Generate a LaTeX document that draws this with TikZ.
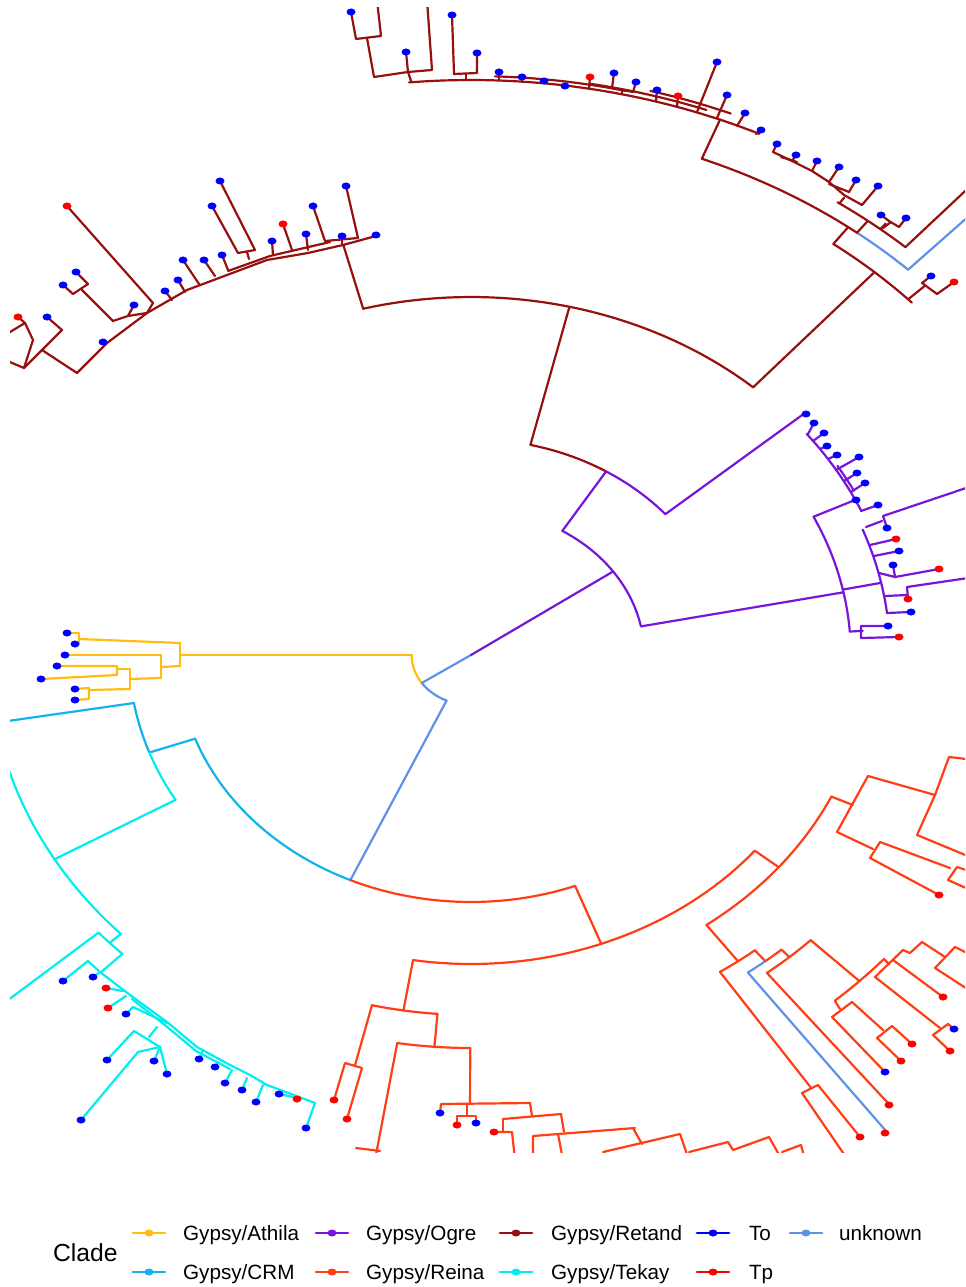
\documentclass[tikz,border=0pt]{standalone}
\usepackage{fontspec}
\setmainfont{Liberation Sans}
\definecolor{cAth}{RGB}{255,190,15}
\definecolor{cCRM}{RGB}{20,178,235}
\definecolor{cOgr}{RGB}{118,22,218}
\definecolor{cRei}{RGB}{255,62,22}
\definecolor{cRet}{RGB}{150,16,16}
\definecolor{cTek}{RGB}{0,238,240}
\definecolor{cTo}{RGB}{0,0,255}
\definecolor{cTp}{RGB}{255,0,0}
\definecolor{cUnk}{RGB}{95,145,232}
\tikzset{
  ath/.style={draw=cAth}, crm/.style={draw=cCRM}, ogr/.style={draw=cOgr},
  rei/.style={draw=cRei}, ret/.style={draw=cRet}, tek/.style={draw=cTek},
  unk/.style={draw=cUnk},
  tipdot/.style={x radius=4.5, y radius=3.5},
  legtext/.style={anchor=base west, inner sep=0pt, font=\fontsize{15.5}{18}\selectfont},
  legline/.style={line width=2.2pt}
}
% radial branch: style, angle, inner radius, outer radius
\newcommand\Rad[4]{\draw[#1] (#2:#3) -- (#2:#4);}
% connector arc: style, from angle, to angle, radius
\newcommand\Arc[4]{\draw[#1] plot[domain=#2:#3,samples=40] (\x:#4);}
\newcommand\ToTips[1]{\foreach \p in {#1} \fill[cTo] \p ellipse[tipdot];}
\newcommand\TpTips[1]{\foreach \p in {#1} \fill[cTp] \p ellipse[tipdot];}
\begin{document}
\begin{tikzpicture}[x=0.75pt,y=-0.75pt,line width=1.65pt,line cap=round,line join=round]
\useasboundingbox (0,0) rectangle (965,1287);
\begin{scope}
\clip (10,8) rectangle (965,1152);
% ---------- polar backbone (origin at the root) ----------
\begin{scope}[shift={(471,655)},x=0.89025pt]
% root
\Rad{unk}{146}{0}{50}
\Rad{ogr}{-34.9}{0}{145}
\Arc{ath}{146}{180}{50}
\Arc{unk}{114.3}{146}{50}
\Rad{ath}{180}{50}{245}
\Rad{unk}{114.3}{50}{247}
% CRM / Tekay / Reina split
\Arc{crm}{114.3}{160.2}{247}
\Arc{rei}{69.2}{114.3}{247}
\Rad{crm}{160.2}{247}{287}
\Arc{crm}{160.2}{170.4}{288}
\Arc{tek}{149.8}{160.2}{288}
\Rad{crm}{170.4}{288}{430}
\Rad{tek}{149.8}{288}{406}
\Arc{tek}{136.6}{168}{406}
\Rad{tek}{136.6}{406}{418}
\Arc{tek}{134.5}{138.5}{419}
\Rad{tek}{138.5}{419}{540}
\Rad{tek}{134.5}{419}{445}
% Reina
\Rad{rei}{69.2}{247}{309}
\Arc{rei}{39.3}{99.1}{309}
\Rad{rei}{99.1}{309}{360}
\Arc{rei}{94.5}{103.4}{360}
\Rad{rei}{103.4}{360}{422}
\Rad{rei}{94.5}{360}{393}
\Arc{rei}{90.1}{99.1}{393}
\Rad{rei}{99.1}{393}{520}
\Rad{rei}{90.1}{393}{448}
\Rad{rei}{39.3}{309}{334}
\Arc{rei}{25}{53.7}{335}
\Rad{rei}{25}{335}{355}
\Rad{rei}{53.7}{335}{380}
\Arc{rei}{51}{56.5}{380}
\Rad{rei}{56.5}{380}{519}
\Rad{rei}{51}{380}{394}
\Arc{unk}{51}{53.7}{394}
\Arc{rei}{48.4}{51}{394}
\Rad{unk}{53.7}{394}{592}
\Rad{rei}{48.4}{394}{404}
\Arc{rei}{44.9}{51.9}{404}
\Rad{rei}{51.9}{404}{571}
\Rad{rei}{44.9}{404}{462}
\Arc{rei}{41.2}{48.4}{462}
% Ogre
\Arc{ogr}{-58.2}{-11.4}{146}
\Rad{ogr}{-58.2}{146}{216}
\Arc{ret}{-76.6}{-58.2}{216}
\Arc{ogr}{-58.2}{-40.7}{216}
\Rad{ret}{-76.6}{216}{358}
\Rad{ogr}{-40.7}{216}{372}
\Rad{ogr}{-11.3}{146}{320}
\Arc{ogr}{-25.6}{-4.2}{320}
\Rad{ogr}{-25.6}{320}{359}
\Arc{ogr}{-38}{-23.6}{359}
\Arc{ogr}{-31.5}{-27}{362}
\Rad{ogr}{-11.8}{320}{353}
\Arc{ogr}{-20.8}{-6.8}{353}
\Rad{ogr}{-4.2}{320}{331}
% Retand
\Arc{ret}{-104.7}{-48.4}{358}
\Rad{ret}{-104.7}{358}{424}
\Rad{ret}{-48.4}{358}{512}
\Arc{ret}{-53.4}{-43.5}{512}
\Rad{ret}{-53.4}{512}{533}
\Arc{unk}{-52.4}{-46.3}{533}
\Arc{ret}{-68.6}{-52.4}{533}
\Rad{unk}{-46.3}{533}{700}
\Rad{ret}{-52.4}{533}{548}
\Arc{ret}{-55.7}{-48.1}{548}
\Rad{ret}{-48.1}{548}{700}
\Rad{ret}{-55.5}{548}{555}
\Rad{ret}{-51}{548}{555}
\Rad{ret}{-44}{512}{531}
\Rad{ret}{-68.6}{533}{575}
\Arc{ret}{-95.2}{-65}{575}
\Arc{ret}{-88}{-77}{579}
\Arc{ret}{-80}{-70}{580}
\Arc{ret}{-75}{-68}{584}
\end{scope}
% ---------- Athila ----------
\draw[ath] (180,643)--(180,666);
\draw[ath] (67,633)--(79,633)--(79,644)--(75,644);
\draw[ath] (180,643)--(79,639);
\draw[ath] (180,666)--(161,667);
\draw[ath] (161,655)--(161,678);
\draw[ath] (161,655)--(65,655);
\draw[ath] (161,678)--(130,679);
\draw[ath] (130,669)--(130,689);
\draw[ath] (130,669)--(117,669);
\draw[ath] (57,666)--(117,666)--(117,675)--(41,679);
\draw[ath] (130,689)--(89,690);
\draw[ath] (75,689)--(89,688)--(89,699)--(75,700);
\ToTips{(67,633),(75,644),(65,655),(57,666),(41,679),(75,689),(75,700)}
% ---------- Tekay ----------
\draw[tek] (88,961)--(100,972)--(130,995)--(167,1022)--(197,1047)--(230,1065)--(250,1075)--(267,1085)--(315,1103);
\draw[tek] (132,999)--(166,1026)--(196,1051)--(230,1069);
\draw[tek] (88,961)--(63,981);
\draw[tek] (100,972)--(93,977);
\draw[tek] (123,991)--(106,988);
\draw[tek] (126,996)--(108,1008);
\draw[tek] (167,1023)--(133,1007)--(126,1014);
\draw[tek] (157,1027)--(149,1037);
\draw[tek] (107,1060)--(134,1031)--(160,1047)--(154,1061);
\draw[tek] (160,1047)--(167,1074);
\draw[tek] (160,1047)--(138,1052)--(81,1120);
\draw[tek] (203,1050)--(199,1059);
\draw[tek] (218,1062)--(215,1067);
\draw[tek] (232,1070)--(225,1083);
\draw[tek] (247,1078)--(242,1090);
\draw[tek] (263,1085)--(256,1102);
\draw[tek] (293,1097)--(279,1094);
\draw[tek] (315,1103)--(306,1128);
\ToTips{(63,981),(93,977),(126,1014),(107,1060),(154,1061),(167,1074),(81,1120),(199,1059),(215,1067),(225,1083),(242,1090),(256,1102),(279,1094),(306,1128)}
\TpTips{(106,988),(108,1008),(297,1099)}
% ---------- Retand, upper left ----------
\draw[ret] (376,236)--(343,245)--(308,253)--(267,260)--(227,275)--(187,290)--(147,313)--(107,343)--(77,373);
\draw[ret] (228,271)--(270,256)--(330,242);
\draw[ret] (342,245)--(342,237);
\draw[ret] (346,186)--(358,238)--(325,241)--(313,206);
\draw[ret] (308,250)--(306,234);
\draw[ret] (292,250)--(283,224);
\draw[ret] (273,255)--(272,241);
\draw[ret] (220,181)--(255,250)--(238,253)--(212,206);
\draw[ret] (247,252)--(249,259);
\draw[ret] (228,270)--(222,255);
\draw[ret] (215,276)--(204,260);
\draw[ret] (199,284)--(183,260);
\draw[ret] (185,292)--(178,280);
\draw[ret] (172,300)--(165,291);
\draw[ret] (147,313)--(153,303)--(67,206);
\draw[ret] (147,313)--(128,316)--(113,321)--(82,290);
\draw[ret] (128,316)--(134,305);
\draw[ret] (76,272)--(88,284)--(73,294)--(63,285);
\draw[ret] (77,373)--(42,350)--(62,330)--(47,317);
\draw[ret] (42,350)--(24,368)--(5,360);
\draw[ret] (24,368)--(33,340)--(25,323)--(18,317);
\draw[ret] (25,323)--(5,335);
\ToTips{(47,317),(103,342),(63,285),(76,272),(134,305),(165,291),(178,280),(183,260),(204,260),(222,255),(212,206),(220,181),(272,241),(306,234),(313,206),(346,186),(342,236),(376,235)}
\TpTips{(18,317),(67,206),(283,224)}
% ---------- Retand, top ----------
\draw[ret] (411,81)--(408,72);
\draw[ret] (367,38)--(374,77)--(408,72)--(432,70)--(427,0);
\draw[ret] (351,12)--(356,39)--(381,36)--(377,0);
\draw[ret] (408,72)--(406,52);
\draw[ret] (466,80)--(466,74);
\draw[ret] (452,15)--(454,74)--(477,73)--(477,53);
\draw[ret] (499,80)--(499,72);
\draw[ret] (522,82)--(522,77);
\draw[ret] (589,89)--(590,77);
\draw[ret] (622,94)--(622,90);
\draw[ret] (614,73)--(612,88)--(633,92)--(636,82);
\draw[ret] (656,101)--(657,90);
\draw[ret] (677,107)--(678,96);
\draw[ret] (697,112)--(717,62);
\draw[ret] (717,118)--(727,95);
\draw[ret] (737,126)--(745,113);
\draw[ret] (756,134)--(761,130);
\ToTips{(351,12),(406,52),(452,15),(477,53),(499,72),(522,77),(544,81),(565,86),(614,73),(636,82),(657,90),(717,62),(727,95),(745,113),(761,130)}
\TpTips{(590,77),(678,96)}
% ---------- Retand, right ----------
\draw[ret] (773,152)--(792,161)--(812,171)--(829,182)--(844,195)--(862,205);
\draw[ret] (781,157)--(797,162);
\draw[ret] (829,184)--(849,192);
\draw[ret] (773,152)--(777,144);
\draw[ret] (792,161)--(796,155);
\draw[ret] (812,171)--(817,161);
\draw[ret] (829,182)--(839,167);
\draw[ret] (849,192)--(856,180);
\draw[ret] (862,205)--(878,186);
\draw[ret] (883,228)--(891,222);
\draw[ret] (881,215)--(889,221)--(899,227)--(906,218);
\draw[ret] (931,276)--(922,283)--(937,294)--(954,282);
\ToTips{(777,144),(796,155),(817,161),(839,167),(856,180),(878,186),(881,215),(906,218),(931,276)}
\TpTips{(954,282)}
% ---------- Ogre ----------
\draw[ogr] (808,434)--(814,423);
\draw[ogr] (813,441)--(824,433);
\draw[ogr] (820,449)--(827,446);
\draw[ogr] (828,459)--(837,455);
\draw[ogr] (836,470)--(859,457);
\draw[ogr] (844,481)--(857,473);
\draw[ogr] (851,492)--(865,483);
\draw[ogr] (861,511)--(878,505);
\draw[ogr] (866,527)--(882,521);
\draw[ogr] (887,528)--(883,516)--(975,485);
\draw[ogr] (870,545)--(896,539);
\draw[ogr] (874,556)--(899,551);
\draw[ogr] (879,573)--(895,577)--(939,569);
\draw[ogr] (895,577)--(893,565);
\draw[ogr] (885,596)--(907,595);
\draw[ogr] (908,599)--(907,587)--(975,577);
\draw[ogr] (887,613)--(911,612);
\draw[ogr] (888,626)--(861,626)--(861,638)--(899,637);
\ToTips{(806,414),(814,423),(824,433),(827,446),(837,455),(859,457),(857,473),(865,483),(856,500),(878,505),(887,528),(899,551),(893,565),(911,612),(888,626)}
\TpTips{(896,539),(939,569),(908,599),(899,637)}
% ---------- Reina, lower left ----------
\draw[rei] (334,1100)--(345,1063)--(362,1068)--(347,1119);
\draw[rei] (356,1148)--(380,1151);
\draw[rei] (440,1113)--(441,1104)--(530,1103);
\draw[rei] (467,1104)--(467,1116);
\draw[rei] (457,1125)--(457,1116)--(476,1116)--(476,1123);
\draw[rei] (530,1103)--(532,1116);
\draw[rei] (503,1119)--(561,1114);
\draw[rei] (503,1119)--(503,1132);
\draw[rei] (494,1132)--(512,1132)--(515,1160);
\draw[rei] (561,1114)--(564,1132);
\draw[rei] (533,1160)--(533,1136)--(635,1128);
\draw[rei] (558,1134)--(563,1160);
\draw[rei] (633,1128)--(642,1144);
\draw[rei] (603,1152)--(680,1134)--(689,1160);
\draw[rei] (689,1152)--(728,1142)--(733,1150)--(769,1137)--(782,1160);
\draw[rei] (782,1152)--(801,1145)--(805,1160);
\ToTips{(440,1113),(476,1123)}
\TpTips{(334,1100),(347,1119),(457,1125),(494,1132)}
% ---------- Reina, right ----------
\draw[rei] (868,776)--(853,803)--(837,832);
\draw[rei] (868,776)--(935,795);
\draw[rei] (975,760)--(949,757)--(935,795)--(917,835)--(975,859);
\draw[rei] (837,832)--(873,849);
\draw[rei] (950,868)--(880,842)--(870,858)--(939,895);
\draw[rei] (975,873)--(957,867)--(948,880)--(975,892);
\draw[rei] (835,1001)--(840,1009);
\draw[rei] (885,1072)--(832,1017)--(852,1002)--(883,1030);
\draw[rei] (901,1061)--(877,1038)--(892,1026)--(912,1044);
\draw[rei] (884,959)--(889,964);
\draw[rei] (940,1028)--(875,977)--(903,950)--(910,953)--(922,942)--(945,957);
\draw[rei] (950,1051)--(933,1035)--(948,1024)--(954,1029);
\draw[rei] (893,960)--(943,997);
\draw[rei] (975,994)--(935,968)--(955,947)--(975,957);
\draw[rei] (848,1160)--(802,1093)--(818,1085)--(860,1137);
\ToTips{(885,1072),(954,1029)}
\TpTips{(939,895),(901,1061),(912,1044),(950,1051),(943,997),(889,1105),(885,1133),(860,1137)}
\end{scope}
% ---------- legend ----------
\node[anchor=base west, inner sep=0pt, font=\fontsize{18.5}{22}\selectfont] (legtitle) at (52,1261) {Clade};
\draw[legline,cAth] (133,1233)--(165,1233); \fill[cAth] (149,1233) ellipse[tipdot];
\node[legtext] (lAth) at (182,1240) {Gypsy/Athila};
\draw[legline,cOgr] (316,1233)--(348,1233); \fill[cOgr] (332,1233) ellipse[tipdot];
\node[legtext] (lOgr) at (365,1240) {Gypsy/Ogre};
\draw[legline,cRet] (500,1233)--(532,1233); \fill[cRet] (516,1233) ellipse[tipdot];
\node[legtext] (lRet) at (550,1240) {Gypsy/Retand};
\draw[legline,cTo] (697,1233)--(729,1233); \fill[cTo] (713,1233) ellipse[tipdot];
\node[legtext] (lTo) at (748,1240) {To};
\draw[legline,cUnk] (790,1233)--(822,1233); \fill[cUnk] (806,1233) ellipse[tipdot];
\node[legtext] (lUnk) at (838,1240) {unknown};
\draw[legline,cCRM] (133,1272)--(165,1272); \fill[cCRM] (149,1272) ellipse[tipdot];
\node[legtext] (lCRM) at (182,1279) {Gypsy/CRM};
\draw[legline,cRei] (316,1272)--(348,1272); \fill[cRei] (332,1272) ellipse[tipdot];
\node[legtext] (lRei) at (365,1279) {Gypsy/Reina};
\draw[legline,cTek] (500,1272)--(532,1272); \fill[cTek] (516,1272) ellipse[tipdot];
\node[legtext] (lTek) at (550,1279) {Gypsy/Tekay};
\draw[legline,cTp] (697,1272)--(729,1272); \fill[cTp] (713,1272) ellipse[tipdot];
\node[legtext] (lTp) at (748,1279) {Tp};
\end{tikzpicture}
\end{document}
